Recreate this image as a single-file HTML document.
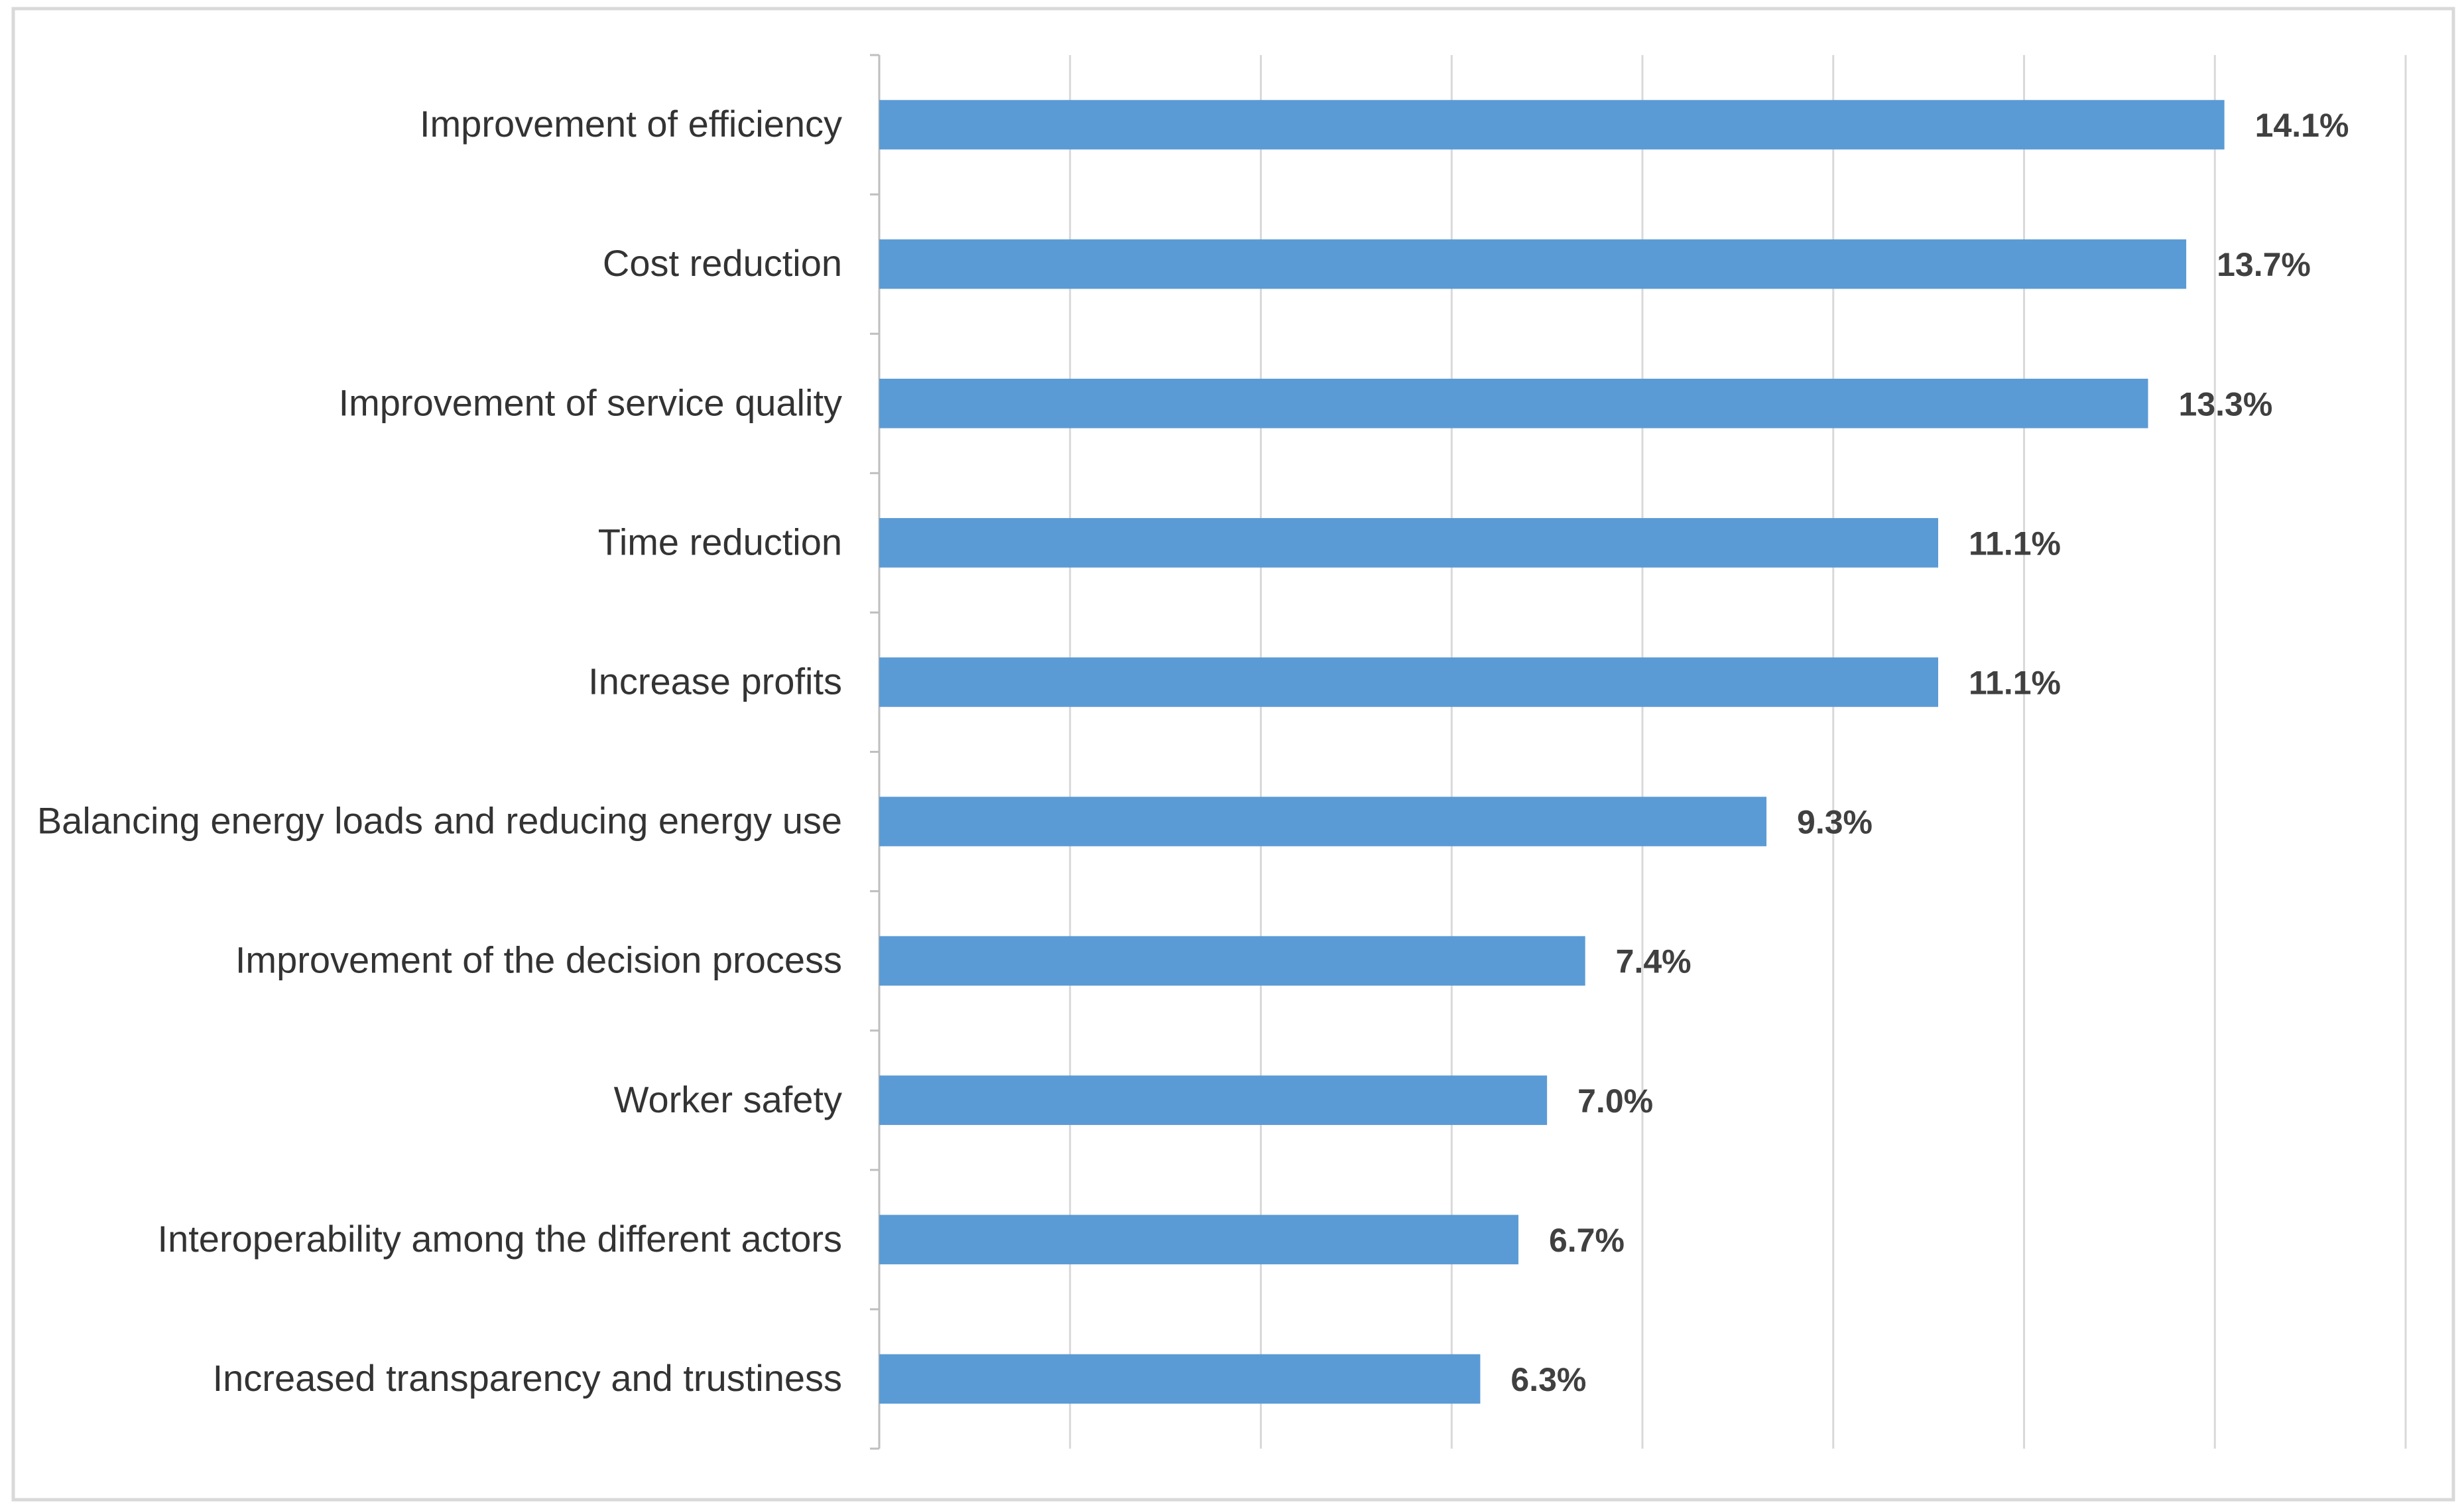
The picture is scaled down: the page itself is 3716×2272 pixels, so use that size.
<!DOCTYPE html>
<html><head><meta charset="utf-8"><style>
html,body{margin:0;padding:0;background:#fff;}
svg{display:block;}
</style></head><body>
<svg id="chart" width="3716" height="2272" viewBox="0 0 3716 2272" xmlns="http://www.w3.org/2000/svg">
<rect x="20" y="13" width="3680" height="2248" fill="#fff" stroke="#d9d9d9" stroke-width="5"/>
<g id="grid"></g><g id="bars"></g><g id="labels"></g>
</svg>
<script>
const categories = ["Improvement of efficiency","Cost reduction","Improvement of service quality","Time reduction","Increase profits","Balancing energy loads and reducing energy use","Improvement of the decision process","Worker safety","Interoperability among the different actors","Increased transparency and trustiness"];
const values = [14.1,13.7,13.3,11.1,11.1,9.3,7.4,7.0,6.7,6.3];
const xTicks = [0,2,4,6,8,10,12,14,16];
const NS="http://www.w3.org/2000/svg";
const x0=1326,x1=3628,xMax=16,yTop=83,yBot=2184;
const xs=v=>x0+(v/xMax)*(x1-x0);
const band=(yBot-yTop)/categories.length;
const yc=i=>yTop+band*(i+0.5);
function mk(t,a,p){const e=document.createElementNS(NS,t);for(const k in a)e.setAttribute(k,a[k]);p.appendChild(e);return e;}
const g=document.getElementById('grid'),b=document.getElementById('bars'),l=document.getElementById('labels');
xTicks.forEach(t=>{const e=mk('line',{x1:xs(t),x2:xs(t),y1:yTop,y2:yBot,stroke:t===0?'#bfbfbf':'#d9d9d9','stroke-width':3},g);

});
for(let i=0;i<=categories.length;i++){const e=mk('line',{x1:x0-14,x2:x0,y1:yTop+band*i,y2:yTop+band*i,stroke:'#bfbfbf','stroke-width':3},g);

}
const bh=band*0.355;
categories.forEach((c,i)=>{
const r=mk('rect',{x:x0,y:yc(i)-bh/2,width:xs(values[i])-x0,height:bh,fill:'#5b9bd5'},b);


const t=mk('text',{x:1270,y:yc(i)+18,'text-anchor':'end','font-family':'Liberation Sans, sans-serif','font-size':56,fill:'#333'},l);
t.textContent=c;


const v=mk('text',{x:xs(values[i])+46,y:yc(i)+18,'font-family':'Liberation Sans, sans-serif','font-size':50,'font-weight':'bold',fill:'#404040'},l);
v.textContent=values[i].toFixed(1)+'%';


});
</script>
</body></html>
